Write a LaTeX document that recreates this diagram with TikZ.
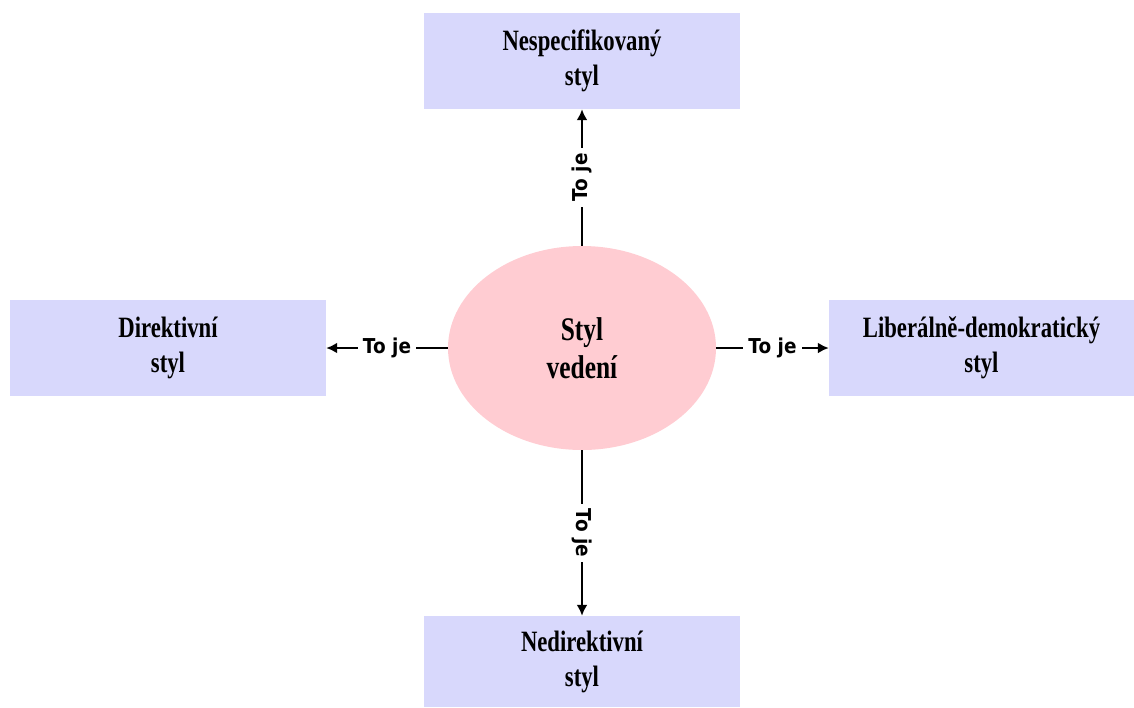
\documentclass[tikz,border=0pt]{standalone}
\usepackage{fontspec}
\setmainfont{Liberation Serif}
\newfontfamily\boxfont[FakeStretch=0.77]{Liberation Serif}
\newfontfamily\labfont[FakeStretch=0.9]{DejaVu Sans}
\usetikzlibrary{arrows.meta,shapes.geometric}
\definecolor{boxfill}{RGB}{216,216,252}
\definecolor{ovalfill}{RGB}{255,204,210}

\begin{document}
\begin{tikzpicture}[x=1pt,y=-1pt,
  stylebox/.style={fill=boxfill, minimum width=316pt, minimum height=96pt,
    inner sep=0pt, align=center,
    font=\boxfont\bfseries\fontsize{29.5}{35}\selectfont},
  hub/.style={ellipse, fill=ovalfill, minimum width=268pt, minimum height=204pt,
    inner sep=0pt, align=center,
    font=\boxfont\bfseries\fontsize{33}{38}\selectfont},
  link/.style={line width=2.6pt, -{Latex[length=11pt,width=11pt]}},
  edgelab/.style={fill=white, inner sep=5pt,
    font=\labfont\bfseries\fontsize{20.5}{22}\selectfont}]
\useasboundingbox (0,0) rectangle (1134,707);

% central ellipse
\node[hub] (core) at (582,348) {Styl\\vedení};

% the four leadership styles
\node[stylebox] (top) at (582,61) {Nespecifikovaný\\styl};
\node[stylebox] (dir) at (168,348) {Direktivní\\styl};
\node[stylebox, minimum width=305pt] (lib) at (981.5,348) {Liberálně-demokratický\\styl};
\node[stylebox, minimum height=91pt] (nedir) at (582,661.5) {Nedirektivní\\styl};

% connectors
\draw[link] (core.north) -- node[edgelab, rotate=90] {To je} (top.south);
\draw[link] (core.west) -- node[edgelab] {To je} (dir.east);
\draw[link] (core.east) -- node[edgelab] {To je} (lib.west);
\draw[link] (core.south) -- node[edgelab, rotate=-90] {To je} (nedir.north);
\end{tikzpicture}
\end{document}
